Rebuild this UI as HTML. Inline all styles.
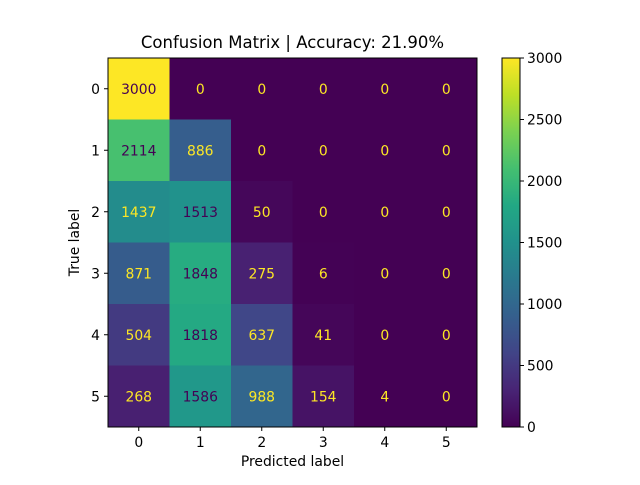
<!DOCTYPE html>
<html><head><meta charset="utf-8"><style>
body{margin:0;background:#fff}
svg text{font-family:"DejaVu Sans","Liberation Sans",sans-serif}
</style></head><body>
<svg id="chart" width="640" height="480" xmlns="http://www.w3.org/2000/svg">
<defs><linearGradient id="cbgrad" x1="0" y1="1" x2="0" y2="0"></linearGradient></defs>
<rect width="640" height="480" fill="#fff"/>
<text x="292.5" y="48" font-size="16.5" text-anchor="middle">Confusion Matrix | Accuracy: 21.90%</text>
<g id="cells"></g>
<g id="axes"></g>
</svg>
<script>
const classes=["0","1","2","3","4","5"];
const matrix=[
[3000,0,0,0,0,0],
[2114,886,0,0,0,0],
[1437,1513,50,0,0,0],
[871,1848,275,6,0,0],
[504,1818,637,41,0,0],
[268,1586,988,154,4,0]];
const cbTicks=[0,500,1000,1500,2000,2500,3000];
const vmin=0,vmax=3000;
const vir=["#440154","#482475","#414487","#355f8d","#2a788e","#21918c","#22a884","#44bf70","#7ad151","#bddf26","#fde725"];
function hex(h){return [1,3,5].map(i=>parseInt(h.substr(i,2),16));}
function cmap(t){t=Math.max(0,Math.min(1,t));const p=t*10,i=Math.min(9,Math.floor(p)),f=p-i;const a=hex(vir[i]),b=hex(vir[i+1]);
return "rgb("+a.map((v,k)=>Math.round(v+(b[k]-v)*f)).join(",")+")";}
const L=108,T=58,W=369,H=369,n=classes.length,cw=W/n,ch=H/n;
const xs=j=>L+j*cw, ys=i=>T+i*ch;
const NS="http://www.w3.org/2000/svg";
function mk(tag,attrs,parent,txt){const e=document.createElementNS(NS,tag);for(const k in attrs)e.setAttribute(k,attrs[k]);if(txt!==undefined)e.textContent=txt;parent.appendChild(e);return e;}
const cells=document.getElementById('cells'),axes=document.getElementById('axes');
const thresh=(vmax+vmin)/2;
matrix.forEach((row,i)=>row.forEach((v,j)=>{
 const r=mk('rect',{x:xs(j),y:ys(i),width:cw+0.5,height:ch+0.5,fill:cmap((v-vmin)/(vmax-vmin))},cells);
 
 
 const t=mk('text',{x:xs(j)+cw/2,y:ys(i)+ch/2+5,'font-size':13.9,'text-anchor':'middle',fill:v<thresh?"#fde725":"#440154"},cells,String(v));
 
 
}));
mk('rect',{x:L,y:T,width:W,height:H,fill:'none',stroke:'#000','stroke-width':1},axes);
classes.forEach((c,k)=>{
 mk('line',{x1:xs(k)+cw/2,x2:xs(k)+cw/2,y1:T+H,y2:T+H+4,stroke:'#000'},axes);
 const tx=mk('text',{x:xs(k)+cw/2,y:T+H+20,'font-size':13.9,'text-anchor':'middle'},axes,c);
 
 
 mk('line',{x1:L-4,x2:L,y1:ys(k)+ch/2,y2:ys(k)+ch/2,stroke:'#000'},axes);
 const ty=mk('text',{x:L-8,y:ys(k)+ch/2+5,'font-size':13.9,'text-anchor':'end'},axes,c);
 
 
});
const xl=mk('text',{x:L+W/2,y:466,'font-size':13.9,'text-anchor':'middle'},axes,'Predicted label');


const yl=mk('text',{x:0,y:0,'font-size':13.9,'text-anchor':'middle',transform:'translate(79,'+(T+H/2)+') rotate(-90)'},axes,'True label');


const g=document.getElementById('cbgrad');
for(let s=0;s<=20;s++)mk('stop',{offset:(s/20),'stop-color':cmap(s/20)},g);
const CX=502,CW=18;
const cy=v=>T+H-(v-vmin)/(vmax-vmin)*H;
const cb=mk('rect',{x:CX,y:T,width:CW,height:H,fill:'url(#cbgrad)',stroke:'#000','stroke-width':1},axes);


cbTicks.forEach(v=>{
 mk('line',{x1:CX+CW,x2:CX+CW+4,y1:cy(v),y2:cy(v),stroke:'#000'},axes);
 const t=mk('text',{x:CX+CW+7,y:cy(v)+5,'font-size':13.9},axes,String(v));
 
 
});
</script>
</body></html>
